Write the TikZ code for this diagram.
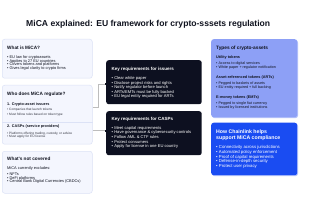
\documentclass[tikz,border=0pt]{standalone}
\usepackage{fontspec}
\setmainfont{Liberation Sans}
\usetikzlibrary{arrows.meta}
\definecolor{lfill}{HTML}{F4F6FE}
\definecolor{lborder}{HTML}{DCE2F6}
\definecolor{darkbox}{HTML}{0D1020}
\definecolor{peri}{HTML}{8DA0F6}
\definecolor{cblue}{HTML}{1A4CF2}
\definecolor{shadowc}{HTML}{B3C1FA}
\definecolor{ink}{HTML}{10131F}
\definecolor{connc}{HTML}{BDBDBD}
\begin{document}
\begin{tikzpicture}[x=1pt,y=-1pt,
  boxbase/.style={anchor=north west, inner sep=0pt, rounded corners=2.5pt},
  lbox/.style={boxbase, draw=lborder, line width=0.5pt, fill=lfill},
  mbox/.style={boxbase, fill=darkbox},
  pbox/.style={boxbase, fill=peri},
  bbox/.style={boxbase, fill=cblue},
  shade/.style={boxbase, fill=shadowc},
  txt/.style={anchor=base west, inner sep=0pt, text=ink},
  titletxt/.style={txt, font=\fontsize{8.6}{9}\selectfont\bfseries},
  lhead/.style={txt, font=\fontsize{4.7}{5}\selectfont\bfseries},
  lbody/.style={txt, font=\fontsize{3.9}{4}\selectfont},
  lsubhead/.style={txt, font=\fontsize{3.8}{4}\selectfont\bfseries},
  lsmall/.style={txt, font=\fontsize{3.2}{3.4}\selectfont, text=ink!85},
  mhead/.style={txt, text=white, font=\fontsize{4.5}{5}\selectfont\bfseries},
  mbody/.style={txt, text=white, font=\fontsize{4.1}{4.5}\selectfont},
  rhead/.style={txt, font=\fontsize{4.8}{5}\selectfont\bfseries},
  rsub/.style={txt, font=\fontsize{3.8}{4}\selectfont\bfseries},
  rbody/.style={txt, font=\fontsize{3.7}{4}\selectfont},
  bhead/.style={txt, text=white, font=\fontsize{5.2}{5.5}\selectfont\bfseries},
  bbody/.style={txt, text=white, font=\fontsize{4.3}{4.6}\selectfont},
  connl/.style={draw=connc, line width=0.6pt, -{Square[length=1.5pt,width=1.5pt,color=ink]}}
]
\useasboundingbox[fill=white] (0,0) rectangle (320,213);

% title
\node[titletxt] (title) at (26,27) {MiCA explained: EU framework for crypto-sssets regulation};

% left column
\node[lbox, minimum width=90pt, minimum height=39pt] (L1) at (2,39) {};
\node[lbox, minimum width=90pt, minimum height=59pt] (L2) at (2,85) {};
\node[lbox, minimum width=90pt, minimum height=42pt] (L3) at (2,151) {};
\draw[lborder, line width=0.5pt] (L2.west |- 0,122) -- (L2.east |- 0,122);

\node[lhead] (h1) at (7,49.7) {What is MiCA?};
\foreach \t [count=\i] in {EU law for cryptoassets, Applies to 27 EU countries, Covers tokens and platforms, Gives legal clarity to crypto firms}
  \node[lbody] (wb\i) at (7,{58.7+(\i-1)*3.5}) {• \t};

\node[lhead] (h2) at (7,95.7) {Who does MiCA regulate?};
\node[lsubhead] (s1) at (7,105.3) {1. Crypto-asset issuers};
\node[lsmall] (s1a) at (7,110.8) {• Companies that launch tokens};
\node[lsmall] (s1b) at (7,115.1) {• Must follow rules based on token type};
\node[lsubhead] (s2) at (7,128) {2. CASPs (service providers)};
\node[lsmall] (s2a) at (7,134.4) {• Platforms offering trading, custody, or advice};
\node[lsmall] (s2b) at (7,137.9) {• Must apply for EU license};

\node[lhead] (h3) at (7,160.7) {What’s not covered};
\node[lbody] (ex) at (7,169) {MiCA currently excludes:};
\foreach \t [count=\i] in {NFTs, DeFi platforms, Central Bank Digital Currencies (CBDCs)}
  \node[lbody] (nb\i) at (7,{175.6+(\i-1)*3.5}) {• \t};

% middle column
\node[mbox, minimum width=95.5pt, minimum height=44pt] (M1) at (106,60) {};
\node[mbox, minimum width=95.5pt, minimum height=44pt] (M2) at (106,111) {};

\node[mhead] (mh1) at (111.5,70.9) {Key requirements for issuers};
\foreach \t [count=\i] in {Clear white paper, Disclose project risks and rights, Notify regulator before launch, ARTs/EMTs must be fully backed, EU legal entity required for ARTs}
  \node[mbody] (ib\i) at (111.5,{79.7+(\i-1)*4.5}) {• \t};

\node[mhead] (mh2) at (111.5,120.6) {Key requirements for CASPs};
\foreach \t [count=\i] in {Meet capital requirements, Have governance \& cybersecurity controls, Follow AML \& CTF rules, Protect consumers, Apply for license in one EU country}
  \node[mbody] (cb\i) at (111.5,{129.1+(\i-1)*4.65}) {• \t};

% connectors
\coordinate (y1) at (0,107);
\coordinate (y2) at (0,84);
\coordinate (y3) at (0,130.7);
\draw[connl] (L2.east |- y1) -- ++(6,0) |- (M1.west |- y2);
\draw[connl] (L2.east |- y3) -- (M2.west |- y3);

% right column
\node[shade, minimum width=86pt, minimum height=78pt] (R1s) at (211.8,39.9) {};
\node[pbox, minimum width=86pt, minimum height=78pt] (R1) at (211,39) {};
\node[shade, minimum width=86pt, minimum height=52.5pt] (R2s) at (211.8,123.4) {};
\node[bbox, minimum width=86pt, minimum height=52.5pt] (R2) at (211,122.5) {};

\node[rhead] (rh1) at (216,50) {Types of crypto-assets};
\node[rsub] (ut) at (216,59) {Utility tokens};
\node[rbody] (ut1) at (216,64.9) {• Access to digital services};
\node[rbody] (ut2) at (216,68.6) {• White paper + regulator notification};
\node[rsub] (art) at (216,78.6) {Asset-referenced tokens (ARTs)};
\node[rbody] (art1) at (216,84.5) {• Pegged to baskets of assets};
\node[rbody] (art2) at (216,88.5) {• EU entity required + full backing};
\node[rsub] (emt) at (216,98.6) {E-money tokens (EMTs)};
\node[rbody] (emt1) at (216,104.9) {• Pegged to single fiat currency};
\node[rbody] (emt2) at (216,108.6) {• Issued by licensed institutions};

\node[bhead] (bh1) at (216,133.5) {How Chainlink helps};
\node[bhead] (bh2) at (216,139.1) {support MiCA compliance};
\foreach \t [count=\i] in {Connectivity across jurisdictions, Automated policy enforcement, Proof of capital requirements, Defense-in-depth security, Protect user privacy}
  \node[bbody] (hb\i) at (216,{148.8+(\i-1)*4.7}) {• \t};
\end{tikzpicture}
\end{document}
